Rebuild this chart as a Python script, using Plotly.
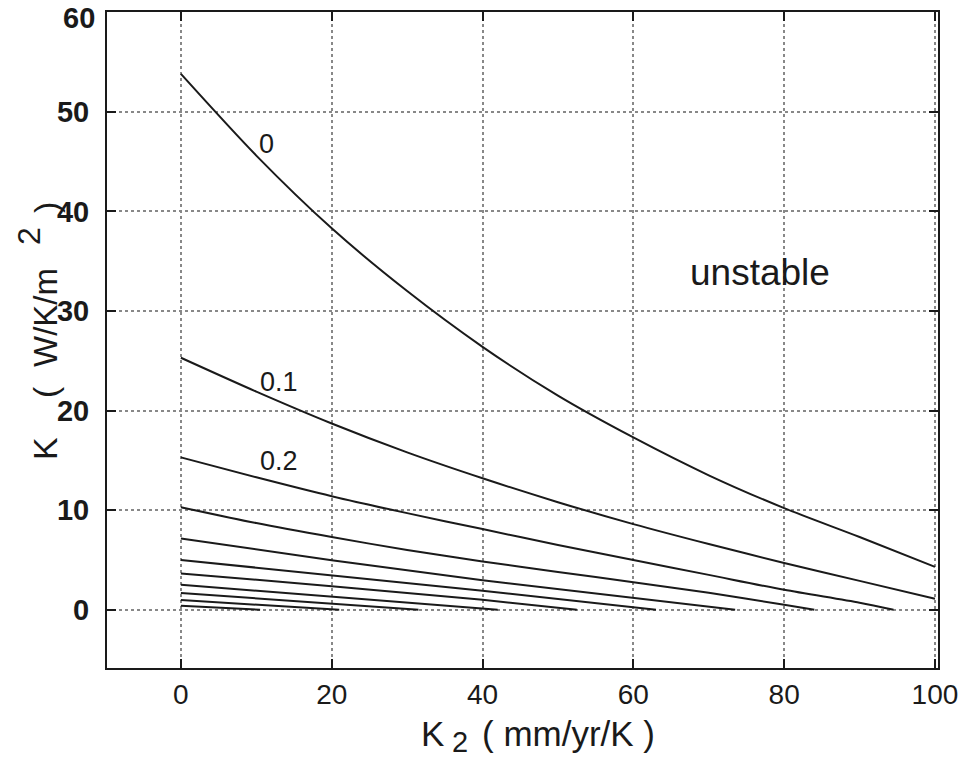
import plotly.graph_objects as go

# Stability boundary curves K(K2), one per parameter value
k2_a = [0, 10, 20, 30, 40, 50, 60, 70, 80, 90, 100]
k_a = [53.8, 45.6, 38.3, 32.0, 26.4, 21.5, 17.3, 13.5, 10.2, 7.3, 4.3]

k2_b = [0, 10, 20, 30, 40, 50, 60, 70, 80, 90, 100]
k_b = [25.3, 21.9, 18.7, 15.8, 13.2, 10.8, 8.6, 6.6, 4.7, 2.9, 1.1]

k2_c = [0, 10, 20, 30, 40, 50, 60, 70, 80, 90, 94.5]
k_c = [15.3, 13.3, 11.4, 9.7, 8.1, 6.5, 5.0, 3.5, 2.0, 0.7, 0]

k2_d = [0, 10, 20, 30, 40, 50, 60, 70, 80, 84]
k_d = [10.3, 8.7, 7.3, 6.0, 4.85, 3.8, 2.77, 1.7, 0.5, 0]

k2_e = [0, 20, 40, 60, 73.5]
k_e = [7.15, 4.98, 2.95, 1.2, 0]

k2_f = [0, 20, 40, 63]
k_f = [5.0, 3.48, 1.9, 0]

k2_g = [0, 20, 40, 52.5]
k_g = [3.64, 2.37, 1.0, 0]

k2_h = [0, 20, 42]
k_h = [2.5, 1.33, 0]

k2_i = [0, 20, 31.5]
k_i = [1.67, 0.65, 0]

k2_j = [0, 10, 21]
k_j = [0.97, 0.48, 0]

k2_k = [0, 10.5]
k_k = [0.4, 0]

curves = [(k2_a, k_a), (k2_b, k_b), (k2_c, k_c), (k2_d, k_d), (k2_e, k_e),
          (k2_f, k_f), (k2_g, k_g), (k2_h, k_h), (k2_i, k_i), (k2_j, k_j),
          (k2_k, k_k)]

curve_labels = ["0", "0.1", "0.2"]
label_x = [11.3, 13.0, 13.0]
label_y = [46.8, 22.9, 14.9]

x_ticks = [0, 20, 40, 60, 80, 100]
y_ticks = [0, 10, 20, 30, 40, 50, 60]
y_tick_text = ["0", "10", "20", "30", "40", "50", ""]
y_top_label = "60"

INK = "#1a1a1a"
SANS = "Liberation Sans, Arial, sans-serif"

fig = go.Figure()
for i, (xs, ys) in enumerate(curves):
    fig.add_trace(go.Scatter(
        x=xs, y=ys, mode="lines",
        line=dict(color=INK, width=2,
                  shape="spline" if i < 4 else "linear", smoothing=0.8),
        hoverinfo="skip", showlegend=False,
    ))

for t, lx, ly in zip(curve_labels, label_x, label_y):
    fig.add_annotation(x=lx, y=ly, text=t, showarrow=False,
                       font=dict(size=27, color=INK, family=SANS))

fig.add_annotation(x=76.8, y=33.9, text="unstable", showarrow=False,
                   font=dict(size=37, color=INK, family=SANS))

# Top tick label sits just under the frame corner
fig.add_annotation(x=-10 / 831, xref="paper", y=y_ticks[-1], yref="y",
                   text=y_top_label, showarrow=False,
                   xanchor="right", yanchor="middle", yshift=-6,
                   font=dict(size=29, color=INK, family=SANS, weight="bold"))

# Axis titles built from pieces so the sub/superscript "2" stays full size
def title_piece(text, px, py, angle=0, size=33):
    fig.add_annotation(
        xref="paper", yref="paper",
        x=(px - 107) / 831, y=(668 - py) / 656,
        text=text, showarrow=False, textangle=angle,
        xanchor="center", yanchor="middle",
        font=dict(size=size, color=INK, family=SANS),
    )

title_piece("K", 432, 733, size=35)
title_piece("2", 460, 742, size=29)
title_piece("( mm/yr/K )", 568, 733, size=35)

title_piece("K", 45, 449, angle=-90, size=34)
title_piece("(", 45, 392, angle=-90, size=34)
title_piece("W/K/m", 45, 318, angle=-90, size=33)
title_piece("2", 29, 236, angle=-90, size=32)
title_piece(")", 46, 208, angle=-90, size=34)

axis_common = dict(
    showline=True, linecolor=INK, linewidth=2, mirror="ticks",
    ticks="inside", ticklen=9, tickwidth=1.5, tickcolor=INK,
    showgrid=True, gridcolor="#888888", gridwidth=1.5, griddash="dot",
    zeroline=False, automargin=False, ticklabeloverflow="allow",
)

fig.update_xaxes(
    range=[-9.8, 100.4], tickmode="array", tickvals=x_ticks,
    tickfont=dict(size=28, color=INK, family=SANS),
    ticklabelstandoff=0,
    **axis_common,
)
fig.update_yaxes(
    range=[-5.85, 60.02], tickmode="array", tickvals=y_ticks,
    ticktext=y_tick_text,
    tickfont=dict(size=29, color=INK, family=SANS, weight="bold"),
    ticklabelstandoff=10,
    **axis_common,
)

fig.update_layout(
    width=965, height=760,
    margin=dict(l=107, r=27, t=12, b=92),
    paper_bgcolor="white", plot_bgcolor="white",
)

fig.write_html("out.html")
